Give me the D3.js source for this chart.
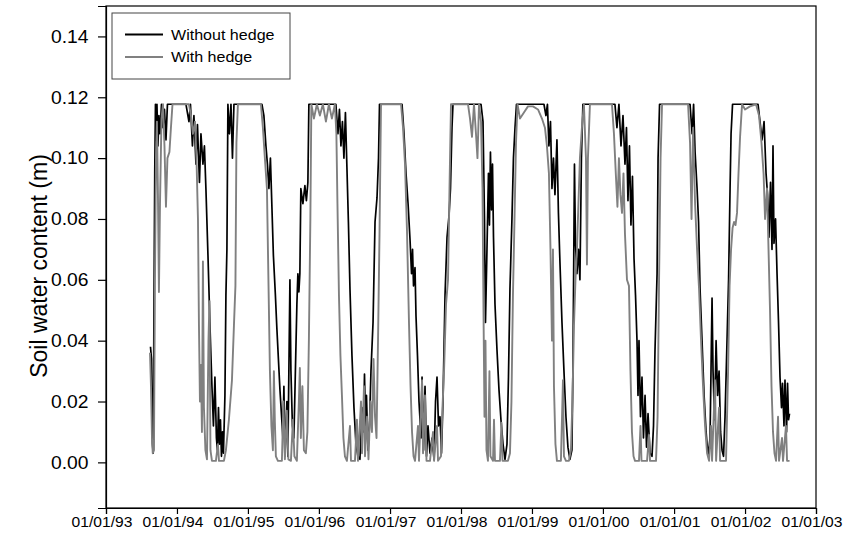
<!DOCTYPE html>
<html>
<head>
<meta charset="utf-8">
<script src="https://cdn.jsdelivr.net/npm/d3@7"></script>
<style>
  html, body { margin: 0; padding: 0; background: #fff; }
  svg text { font-family: "Liberation Sans", Arial, Helvetica, sans-serif; fill: #000; }
</style>
</head>
<body>
<svg id="chart" width="843" height="550"></svg>
<script>
// ---- data (time as decimal year, value in m) ----
const seriesNames = ["Without hedge", "With hedge"];
const seriesColors = ["#000000", "#808080"];
const yTicks = [0.00, 0.02, 0.04, 0.06, 0.08, 0.10, 0.12, 0.14];
const xTickYears = [1993, 1994, 1995, 1996, 1997, 1998, 1999, 2000, 2001, 2002, 2003];

const withoutHedge = [
  [1993.627,0.038],[1993.641,0.034],[1993.655,0.006],[1993.665,0.003],[1993.676,0.050],[1993.687,0.095],
  [1993.697,0.1177],[1993.708,0.106],[1993.718,0.1177],[1993.732,0.104],[1993.746,0.114],[1993.761,0.108],
  [1993.782,0.1177],[1993.803,0.110],[1993.824,0.116],[1993.845,0.106],[1993.866,0.1177],[1993.901,0.1177],
  [1994.127,0.1177],[1994.169,0.112],[1994.190,0.1177],[1994.218,0.104],[1994.239,0.114],[1994.268,0.098],
  [1994.289,0.111],[1994.317,0.092],[1994.338,0.108],[1994.366,0.098],[1994.387,0.104],[1994.408,0.090],
  [1994.437,0.068],[1994.465,0.045],[1994.493,0.025],[1994.514,0.012],[1994.535,0.028],[1994.556,0.008],
  [1994.570,0.004],[1994.585,0.018],[1994.599,0.006],[1994.613,0.014],[1994.627,0.002],[1994.641,0.010],
  [1994.655,0.003],[1994.676,0.022],[1994.690,0.055],[1994.704,0.070],[1994.718,0.1177],[1994.739,0.108],
  [1994.761,0.1177],[1994.782,0.100],[1994.803,0.1177],
  [1995.197,0.1177],[1995.225,0.114],[1995.254,0.104],[1995.275,0.098],[1995.296,0.090],[1995.317,0.100],
  [1995.338,0.084],[1995.359,0.068],[1995.387,0.055],[1995.408,0.044],[1995.451,0.024],[1995.493,0.008],
  [1995.507,0.025],[1995.521,0.002],[1995.535,0.010],[1995.549,0.020],[1995.563,0.002],[1995.577,0.030],
  [1995.592,0.060],[1995.606,0.030],[1995.627,0.012],[1995.648,0.008],[1995.669,0.030],[1995.690,0.052],
  [1995.704,0.062],[1995.718,0.056],[1995.732,0.062],[1995.746,0.090],[1995.775,0.085],[1995.803,0.091],
  [1995.824,0.086],[1995.845,0.092],[1995.859,0.1177],
  [1996.239,0.1177],[1996.268,0.108],[1996.289,0.116],[1996.310,0.104],[1996.331,0.112],[1996.352,0.100],
  [1996.373,0.115],[1996.394,0.097],[1996.415,0.079],[1996.437,0.057],[1996.465,0.035],[1996.493,0.018],
  [1996.521,0.006],[1996.549,0.002],[1996.577,0.001],[1996.606,0.018],[1996.627,0.010],[1996.641,0.029],
  [1996.655,0.012],[1996.669,0.022],[1996.690,0.004],[1996.711,0.012],[1996.732,0.030],[1996.761,0.046],
  [1996.789,0.079],[1996.817,0.087],[1996.838,0.100],[1996.852,0.1177],
  [1997.169,0.1177],[1997.197,0.108],[1997.225,0.095],[1997.254,0.085],[1997.282,0.073],[1997.303,0.062],
  [1997.317,0.070],[1997.331,0.058],[1997.352,0.064],[1997.366,0.048],[1997.387,0.035],[1997.408,0.020],
  [1997.437,0.008],[1997.451,0.028],[1997.472,0.004],[1997.493,0.025],[1997.514,0.002],[1997.535,0.012],
  [1997.563,0.003],[1997.592,0.008],[1997.620,0.001],[1997.641,0.020],[1997.662,0.028],[1997.683,0.012],
  [1997.704,0.015],[1997.725,0.003],[1997.746,0.020],[1997.775,0.055],[1997.803,0.074],[1997.831,0.081],
  [1997.852,0.090],[1997.873,0.110],[1997.887,0.1177],
  [1998.282,0.1177],[1998.310,0.112],[1998.331,0.080],[1998.345,0.046],[1998.366,0.070],[1998.387,0.095],
  [1998.401,0.078],[1998.415,0.102],[1998.430,0.083],[1998.444,0.098],[1998.458,0.074],[1998.479,0.052],
  [1998.507,0.037],[1998.535,0.024],[1998.563,0.014],[1998.592,0.006],[1998.620,0.001],[1998.648,0.006],
  [1998.669,0.028],[1998.690,0.057],[1998.718,0.080],[1998.739,0.100],[1998.761,0.110],[1998.782,0.1177],
  [1999.169,0.1177],[1999.197,0.114],[1999.218,0.1177],[1999.239,0.104],[1999.261,0.112],[1999.282,0.090],
  [1999.303,0.100],[1999.324,0.088],[1999.352,0.106],[1999.373,0.082],[1999.394,0.066],[1999.423,0.046],
  [1999.451,0.030],[1999.479,0.015],[1999.507,0.005],[1999.535,0.001],[1999.563,0.004],[1999.577,0.030],
  [1999.599,0.098],[1999.613,0.072],[1999.634,0.062],[1999.655,0.070],[1999.676,0.060],[1999.697,0.100],
  [1999.718,0.1177],
  [2000.169,0.1177],[2000.197,0.110],[2000.225,0.1177],[2000.254,0.104],[2000.282,0.114],[2000.310,0.098],
  [2000.331,0.110],[2000.352,0.086],[2000.373,0.104],[2000.394,0.078],[2000.415,0.094],[2000.437,0.067],
  [2000.458,0.055],[2000.479,0.040],[2000.493,0.022],[2000.507,0.040],[2000.528,0.015],[2000.549,0.028],
  [2000.570,0.008],[2000.592,0.022],[2000.613,0.005],[2000.634,0.016],[2000.662,0.003],[2000.690,0.002],
  [2000.711,0.012],[2000.732,0.037],[2000.761,0.062],[2000.775,0.100],[2000.796,0.1177],
  [2001.225,0.1177],[2001.254,0.108],[2001.275,0.1177],[2001.296,0.102],[2001.324,0.090],[2001.345,0.079],
  [2001.366,0.057],[2001.394,0.040],[2001.423,0.022],[2001.451,0.010],[2001.479,0.002],[2001.507,0.008],
  [2001.535,0.054],[2001.549,0.030],[2001.570,0.014],[2001.592,0.040],[2001.613,0.022],[2001.634,0.030],
  [2001.655,0.010],[2001.676,0.004],[2001.697,0.002],[2001.718,0.015],[2001.746,0.040],[2001.768,0.060],
  [2001.789,0.090],[2001.803,0.108],[2001.824,0.1177],
  [2002.183,0.1177],[2002.211,0.112],[2002.239,0.106],[2002.268,0.112],[2002.296,0.095],[2002.317,0.088],
  [2002.338,0.074],[2002.359,0.092],[2002.380,0.070],[2002.394,0.104],[2002.408,0.072],[2002.430,0.080],
  [2002.451,0.062],[2002.472,0.046],[2002.493,0.028],[2002.514,0.018],[2002.528,0.026],[2002.549,0.012],
  [2002.563,0.027],[2002.585,0.010],[2002.599,0.026],[2002.613,0.014],[2002.627,0.016]
];

const withHedge = [
  [1993.620,0.036],[1993.634,0.025],[1993.648,0.008],[1993.659,0.003],[1993.676,0.004],[1993.690,0.060],
  [1993.704,0.100],[1993.718,0.112],[1993.732,0.088],[1993.746,0.056],[1993.761,0.085],[1993.782,0.113],
  [1993.803,0.1177],[1993.824,0.104],[1993.845,0.084],[1993.866,0.100],[1993.894,0.102],[1993.915,0.110],
  [1993.937,0.1177],
  [1994.169,0.1177],[1994.197,0.114],[1994.225,0.108],[1994.254,0.112],[1994.275,0.100],[1994.296,0.080],
  [1994.310,0.045],[1994.324,0.020],[1994.338,0.032],[1994.352,0.010],[1994.366,0.066],[1994.380,0.018],
  [1994.401,0.004],[1994.423,0.001],[1994.444,0.040],[1994.458,0.053],[1994.472,0.004],[1994.493,0.0005],
  [1994.549,0.0005],[1994.577,0.006],[1994.592,0.0005],[1994.662,0.0005],[1994.690,0.004],[1994.732,0.014],
  [1994.775,0.027],[1994.803,0.045],[1994.824,0.058],[1994.838,0.105],[1994.859,0.1177],
  [1995.183,0.1177],[1995.211,0.110],[1995.239,0.100],[1995.268,0.090],[1995.289,0.060],[1995.310,0.030],
  [1995.331,0.012],[1995.352,0.004],[1995.366,0.030],[1995.380,0.013],[1995.394,0.002],[1995.423,0.0005],
  [1995.479,0.0005],[1995.500,0.020],[1995.521,0.001],[1995.549,0.017],[1995.570,0.001],[1995.606,0.0005],
  [1995.634,0.014],[1995.655,0.002],[1995.690,0.0005],[1995.718,0.020],[1995.732,0.031],[1995.746,0.008],
  [1995.768,0.025],[1995.789,0.004],[1995.817,0.003],[1995.838,0.010],[1995.859,0.040],[1995.880,0.080],
  [1995.894,0.1177],[1995.930,0.113],[1995.972,0.1177],
  [1996.014,0.114],[1996.056,0.1177],[1996.099,0.112],[1996.141,0.1177],[1996.183,0.113],[1996.225,0.1177],
  [1996.246,0.108],[1996.261,0.085],[1996.282,0.055],[1996.303,0.035],[1996.324,0.022],[1996.345,0.008],
  [1996.366,0.002],[1996.394,0.0005],[1996.437,0.012],[1996.451,0.0005],[1996.507,0.0005],[1996.535,0.014],
  [1996.549,0.0005],[1996.592,0.020],[1996.606,0.003],[1996.634,0.025],[1996.648,0.002],[1996.676,0.015],
  [1996.697,0.001],[1996.725,0.020],[1996.746,0.010],[1996.768,0.034],[1996.789,0.015],[1996.810,0.008],
  [1996.831,0.040],[1996.852,0.075],[1996.873,0.1177],
  [1997.155,0.1177],[1997.183,0.110],[1997.211,0.098],[1997.239,0.076],[1997.268,0.045],[1997.289,0.025],
  [1997.310,0.010],[1997.331,0.002],[1997.352,0.0005],[1997.394,0.012],[1997.408,0.0005],[1997.451,0.027],
  [1997.465,0.003],[1997.493,0.022],[1997.514,0.0005],[1997.563,0.0005],[1997.606,0.010],[1997.620,0.0005],
  [1997.662,0.012],[1997.676,0.0005],[1997.718,0.002],[1997.739,0.018],[1997.761,0.030],[1997.789,0.052],
  [1997.817,0.060],[1997.838,0.090],[1997.859,0.1177],
  [1998.099,0.1177],[1998.127,0.113],[1998.155,0.107],[1998.183,0.1177],[1998.211,0.108],[1998.232,0.100],
  [1998.254,0.1177],[1998.282,0.112],[1998.303,0.090],[1998.317,0.050],[1998.331,0.015],[1998.345,0.040],
  [1998.359,0.004],[1998.380,0.0005],[1998.401,0.030],[1998.415,0.002],[1998.451,0.0005],[1998.465,0.014],
  [1998.479,0.0005],[1998.549,0.0005],[1998.570,0.013],[1998.585,0.0005],[1998.662,0.0005],[1998.690,0.003],
  [1998.711,0.020],[1998.732,0.055],[1998.754,0.080],[1998.775,0.105],[1998.796,0.1177],[1998.831,0.113],
  [1998.887,0.115],[1998.944,0.117],
  [1999.014,0.117],[1999.085,0.116],[1999.141,0.113],[1999.183,0.110],[1999.211,0.104],[1999.239,0.095],
  [1999.261,0.070],[1999.282,0.040],[1999.296,0.070],[1999.310,0.025],[1999.331,0.006],[1999.352,0.0005],
  [1999.408,0.0005],[1999.437,0.027],[1999.451,0.002],[1999.479,0.0005],[1999.521,0.0005],[1999.549,0.004],
  [1999.570,0.020],[1999.592,0.045],[1999.613,0.060],[1999.634,0.070],[1999.655,0.085],[1999.676,0.100],
  [1999.704,0.110],[1999.732,0.1177],[1999.761,0.100],[1999.775,0.065],[1999.789,0.100],[1999.817,0.1177],
  [2000.127,0.1177],[2000.155,0.108],[2000.183,0.094],[2000.204,0.084],[2000.225,0.100],[2000.246,0.088],
  [2000.268,0.082],[2000.289,0.095],[2000.310,0.075],[2000.338,0.060],[2000.366,0.058],[2000.387,0.030],
  [2000.408,0.010],[2000.430,0.002],[2000.451,0.0005],[2000.507,0.0005],[2000.528,0.012],[2000.542,0.0005],
  [2000.620,0.0005],[2000.648,0.009],[2000.662,0.0005],[2000.746,0.0005],[2000.768,0.015],[2000.789,0.060],
  [2000.810,0.100],[2000.831,0.1177],
  [2001.197,0.1177],[2001.225,0.105],[2001.246,0.080],[2001.268,0.110],[2001.296,0.085],[2001.324,0.070],
  [2001.352,0.057],[2001.380,0.040],[2001.408,0.025],[2001.437,0.012],[2001.465,0.003],[2001.493,0.0005],
  [2001.521,0.012],[2001.535,0.0005],[2001.577,0.027],[2001.592,0.0005],[2001.634,0.018],[2001.648,0.0005],
  [2001.732,0.0005],[2001.761,0.030],[2001.782,0.058],[2001.803,0.070],[2001.824,0.077],[2001.845,0.079],
  [2001.866,0.078],[2001.887,0.082],[2001.908,0.095],[2001.930,0.107],[2001.958,0.1177],
  [2002.000,0.116],[2002.070,0.117],[2002.155,0.1177],[2002.197,0.114],[2002.232,0.105],[2002.261,0.095],
  [2002.282,0.080],[2002.310,0.090],[2002.331,0.070],[2002.352,0.050],[2002.373,0.025],[2002.394,0.010],
  [2002.415,0.003],[2002.437,0.0005],[2002.465,0.015],[2002.479,0.0005],[2002.521,0.008],[2002.535,0.0005],
  [2002.577,0.012],[2002.592,0.0005],[2002.627,0.0005]
];

// ---- helpers ----
function toDate(t) {
  const yr = Math.floor(t);
  const s = new Date(yr, 0, 1), e = new Date(yr + 1, 0, 1);
  return new Date(+s + (t - yr) * (e - s));
}
// the reference lettering is slightly wide; widen glyphs horizontally
function widen(sel, f) {
  sel.each(function () {
    const L = this.getComputedTextLength();
    d3.select(this).attr("textLength", L * f).attr("lengthAdjust", "spacingAndGlyphs");
  });
}

// ---- layout ----
const plot = { left: 106, right: 816, top: 6, bottom: 508 };
const svg = d3.select("#chart");

const x = d3.scaleTime()
  .domain([new Date(1993, 0, 1), new Date(2003, 0, 1)])
  .range([plot.left, plot.right]);
const y = d3.scaleLinear()
  .domain([-0.015, 0.150])
  .range([plot.bottom, plot.top]);

// frame
svg.append("rect")
  .attr("x", plot.left).attr("y", plot.top)
  .attr("width", plot.right - plot.left).attr("height", plot.bottom - plot.top)
  .attr("fill", "none").attr("stroke", "#000").attr("stroke-width", 1.2);

// axes
const xAxis = d3.axisBottom(x)
  .tickValues(xTickYears.map(yr => new Date(yr, 0, 1)))
  .tickFormat(d3.timeFormat("%m/%d/%y"))
  .tickSize(6).tickPadding(3);
const gx = svg.append("g").attr("transform", `translate(0,${plot.bottom})`).call(xAxis);
gx.selectAll("text").style("font-size", "14.6px").attr("x", -4.5).attr("dy", "0.71em");
widen(gx.selectAll("text"), 1.07);

const yAxis = d3.axisLeft(y)
  .tickValues(yTicks)
  .tickFormat(d3.format(".2f"))
  .tickSize(8).tickPadding(9.5);
const gy = svg.append("g").attr("transform", `translate(${plot.left},0)`).call(yAxis);
gy.selectAll("text").style("font-size", "18px");
widen(gy.selectAll("text"), 1.07);

[gx, gy].forEach(g => {
  g.select(".domain").attr("stroke", "#000").attr("stroke-width", 1.2);
  g.selectAll(".tick line").attr("stroke", "#000").attr("stroke-width", 1.2);
});

// y title
svg.append("text")
  .attr("transform", `translate(47,266) rotate(-90)`)
  .attr("text-anchor", "middle")
  .style("font-size", "23px")
  .text("Soil water content (m)");

// lines
const line = d3.line()
  .x(d => x(toDate(d[0])))
  .y(d => y(d[1]));

const allSeries = [withoutHedge, withHedge];
allSeries.forEach((data, i) => {
  svg.append("path")
    .datum(data)
    .attr("fill", "none")
    .attr("stroke", seriesColors[i])
    .attr("stroke-width", i === 0 ? 1.7 : 1.9)
    .attr("stroke-linejoin", "round")
    .attr("d", line);
});

// legend
const lg = svg.append("g");
lg.append("rect")
  .attr("x", 112).attr("y", 13).attr("width", 178).attr("height", 66)
  .attr("fill", "#fff").attr("stroke", "#444").attr("stroke-width", 1);
seriesNames.forEach((name, i) => {
  const ly = 34.5 + i * 22.5;
  lg.append("line")
    .attr("x1", 125).attr("x2", 163).attr("y1", ly).attr("y2", ly)
    .attr("stroke", seriesColors[i]).attr("stroke-width", 2);
  const t = lg.append("text")
    .attr("x", 171).attr("y", ly).attr("dy", "0.35em")
    .style("font-size", "15px")
    .text(name);
  widen(t, 1.07);
});
</script>
</body>
</html>
